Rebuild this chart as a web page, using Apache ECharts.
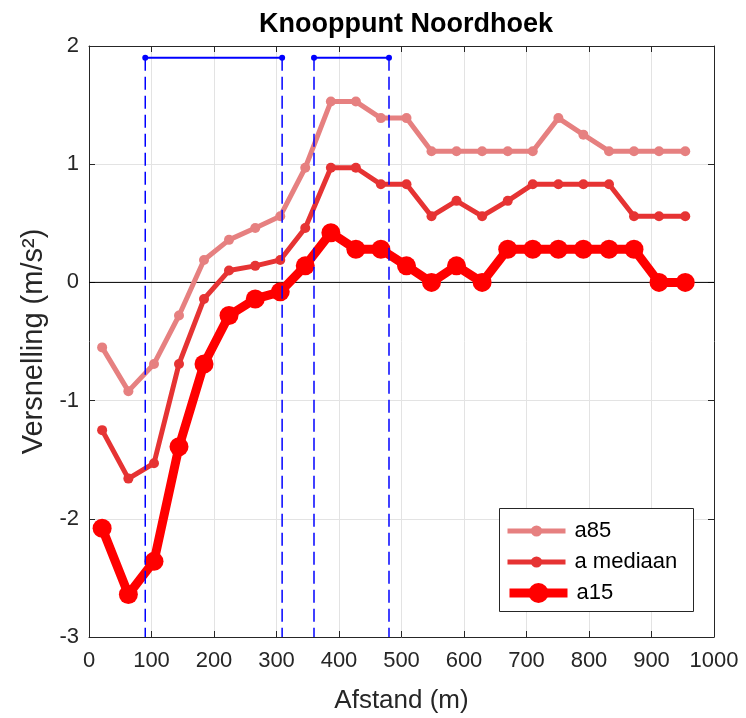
<!DOCTYPE html>
<html>
<head>
<meta charset="utf-8">
<script src="https://cdn.jsdelivr.net/npm/echarts@6/dist/echarts.min.js"></script>
<style>
html,body{margin:0;padding:0;background:#fff;}
#chart{width:746px;height:718px;}
</style>
</head>
<body>
<div id="chart"></div>
<script>
// ---- data ----
const distance = [21, 63, 104, 144, 184, 224, 266, 306, 346, 387, 427, 467, 508, 548, 588, 629, 670, 710, 751, 791, 832, 872, 912, 954];
const a85      = [-0.55, -0.92, -0.69, -0.28, 0.19, 0.36, 0.46, 0.56, 0.97, 1.53, 1.53, 1.39, 1.39, 1.11, 1.11, 1.11, 1.11, 1.11, 1.39, 1.25, 1.11, 1.11, 1.11, 1.11];
const aMediaan = [-1.25, -1.66, -1.53, -0.69, -0.14, 0.10, 0.14, 0.19, 0.46, 0.97, 0.97, 0.83, 0.83, 0.56, 0.69, 0.56, 0.69, 0.83, 0.83, 0.83, 0.83, 0.56, 0.56, 0.56];
const a15      = [-2.08, -2.64, -2.36, -1.39, -0.69, -0.28, -0.14, -0.08, 0.14, 0.42, 0.28, 0.28, 0.14, 0.00, 0.14, 0.00, 0.28, 0.28, 0.28, 0.28, 0.28, 0.28, 0.00, 0.00];
const seriesNames = ['a85', 'a mediaan', 'a15'];
const zones = [[90, 309], [360, 480]];   // distance ranges of the blue markers
const zoneLevel = 1.9;
const xRange = [0, 1000];
const yRange = [-3, 2];
const xStep = 100;
const yStep = 1;

// ---- chart ----
const FONT = 'Liberation Sans, Arial, Helvetica, sans-serif';
const TXT = '#262626';
const pair = (xs, ys) => xs.map((x, i) => [x, ys[i]]);

const series = [];
// zero line
series.push({
  type: 'line', silent: true, symbol: 'none', z: 1,
  data: [[xRange[0], 0], [xRange[1], 0]],
  lineStyle: { color: '#000', width: 1 }
});
const styles = [
  { color: 'rgb(230,128,128)', width: 5, size: 10 },
  { color: 'rgb(230,51,51)', width: 5, size: 10 },
  { color: 'rgb(255,0,0)', width: 9, size: 19 }
];
[a85, aMediaan, a15].forEach((vals, i) => {
  series.push({
    name: seriesNames[i], type: 'line', z: 3 + i,
    data: pair(distance, vals),
    symbol: 'circle', symbolSize: styles[i].size,
    showAllSymbol: true,
    itemStyle: { color: styles[i].color },
    lineStyle: { color: styles[i].color, width: styles[i].width },
    emphasis: { disabled: true }, animation: false
  });
});
zones.forEach(z => {
  z.forEach(x => {
    series.push({
      type: 'line', silent: true, symbol: 'none', z: 8,
      data: [[x, zoneLevel], [x, yRange[0]]],
      lineStyle: { color: '#0000ff', width: 1.5, type: [13, 6] }
    });
  });
  series.push({
    type: 'line', silent: true, z: 9,
    data: [[z[0], zoneLevel], [z[1], zoneLevel]],
    symbol: 'circle', symbolSize: 6,
    itemStyle: { color: '#0000ff' },
    lineStyle: { color: '#0000ff', width: 2 }
  });
});

const legendCfg = [
  { top: 520, h: 14, lw: 5 },
  { top: 551, h: 14, lw: 5 },
  { top: 582, h: 25, lw: 9 }
];
const legends = seriesNames.map((n, i) => ({
  data: [n], left: 505, top: legendCfg[i].top, padding: 0,
  itemWidth: 58, itemHeight: legendCfg[i].h, selectedMode: false,
  lineStyle: { width: legendCfg[i].lw },
  textStyle: { fontSize: 22, color: '#000', fontFamily: FONT, padding: [0, 0, 0, 4] }, z: 10
}));

const axisCommon = {
  axisLine: { show: true, onZero: false, lineStyle: { color: TXT, width: 1 } },
  axisTick: { show: true, inside: true, length: 6, lineStyle: { color: TXT } },
};

const option = {
  animation: false,
  backgroundColor: '#fff',
  textStyle: { fontFamily: FONT },
  title: {
    text: 'Knooppunt Noordhoek', left: 401, top: 6, textAlign: 'center',
    textStyle: { fontSize: 27, fontWeight: 'bold', color: '#000', fontFamily: FONT }
  },
  grid: { left: 89, right: 32, top: 46, bottom: 81, containLabel: false, outerBoundsMode: 'none' },
  legend: legends,
  graphic: [{
    type: 'rect', z: 9, left: 499, top: 508,
    shape: { width: 194, height: 103 },
    style: { fill: '#fff', stroke: TXT, lineWidth: 1 }
  }],
  xAxis: [
    Object.assign({
      type: 'value', min: xRange[0], max: xRange[1], interval: xStep, position: 'bottom',
      name: 'Afstand (m)', nameLocation: 'middle', nameGap: 51,
      nameTextStyle: { fontSize: 26, color: TXT, fontFamily: FONT },
      axisLabel: { fontSize: 22, color: TXT, margin: 13, fontFamily: FONT, formatter: v => String(v) },
      splitLine: { show: true, lineStyle: { color: '#e3e3e3', width: 1 } }
    }, axisCommon),
    Object.assign({
      type: 'value', min: xRange[0], max: xRange[1], interval: xStep, position: 'top',
      axisLabel: { show: false }, splitLine: { show: false }
    }, axisCommon)
  ],
  yAxis: [
    Object.assign({
      type: 'value', min: yRange[0], max: yRange[1], interval: yStep, position: 'left',
      name: 'Versnelling (m/s²)', nameLocation: 'middle', nameGap: 39, nameRotate: 90,
      nameTextStyle: { fontSize: 29, color: TXT, fontFamily: FONT },
      axisLabel: { fontSize: 22, color: TXT, margin: 10, fontFamily: FONT },
      splitLine: { show: true, lineStyle: { color: '#e3e3e3', width: 1 } }
    }, axisCommon),
    Object.assign({
      type: 'value', min: yRange[0], max: yRange[1], interval: yStep, position: 'right',
      axisLabel: { show: false }, splitLine: { show: false }
    }, axisCommon)
  ],
  series: series
};

const chart = echarts.init(document.getElementById('chart'), null, { renderer: 'canvas' });
chart.setOption(option);
</script>
</body>
</html>
